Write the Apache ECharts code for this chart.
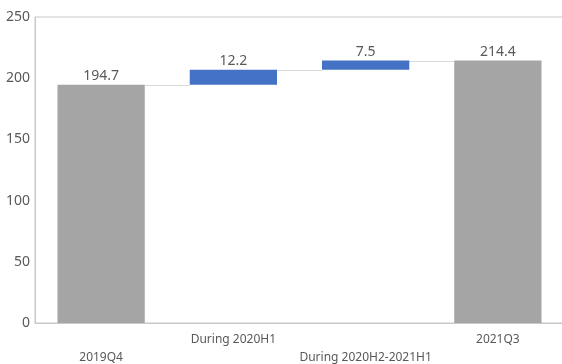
<!DOCTYPE html>
<html>
<head>
<meta charset="utf-8">
<script src="https://cdn.jsdelivr.net/npm/echarts@6/dist/echarts.min.js"></script>
<style>
  html, body { margin: 0; padding: 0; background: #ffffff; }
  #chart { width: 562px; height: 364px; }
</style>
</head>
<body>
<div id="chart"></div>
<script>
// Waterfall: opening level, two increments, closing level
const categories = ['2019Q4', 'During 2020H1', 'During 2020H2-2021H1', '2021Q3'];
const totals = [194.7, null, null, 214.4];
const increments = [null, 12.2, 7.5, null];
const yTicks = { min: 0, max: 250, interval: 50 };

// invisible base under each increment = running total before it
const base = [];
let running = 0;
categories.forEach(function (c, i) {
  if (totals[i] !== null) { base.push(0); running = totals[i]; }
  else { base.push(running); running = +(running + increments[i]).toFixed(1); }
});
// level each bar ends at, used for the connector lines
const levels = categories.map(function (c, i) {
  return totals[i] !== null ? totals[i] : +(base[i] + increments[i]).toFixed(1);
});

const textColor = '#595959';
const font = 'Noto Sans';
const BAR_RATIO = 0.66;

const chart = echarts.init(document.getElementById('chart'), null, { renderer: 'canvas' });
chart.setOption({
  animation: false,
  grid: {
    left: 35, right: -2, top: 17, bottom: 41,
    outerBoundsMode: 'none', containLabel: false,
    show: true, borderColor: '#c8c8c8', borderWidth: 1
  },
  xAxis: {
    type: 'category',
    data: categories,
    axisLine: { show: true, lineStyle: { color: '#c8c8c8' } },
    axisTick: { show: false },
    axisLabel: {
      interval: 0,
      color: textColor,
      fontFamily: font,
      fontSize: 12,
      lineHeight: 18,
      margin: 8,
      formatter: function (v, i) { return i % 2 === 0 ? '\n' + v : v; }
    }
  },
  yAxis: {
    type: 'value',
    min: yTicks.min, max: yTicks.max, interval: yTicks.interval,
    axisLine: { show: true, lineStyle: { color: '#c8c8c8' } },
    axisTick: { show: false },
    splitLine: { show: false },
    axisLabel: { color: textColor, fontFamily: font, fontSize: 14, margin: 5 }
  },
  series: [
    {
      type: 'bar', stack: 'w', barWidth: (BAR_RATIO * 100) + '%',
      data: base,
      itemStyle: { color: 'transparent' },
      silent: true
    },
    {
      type: 'bar', stack: 'w',
      data: totals,
      itemStyle: { color: '#a5a5a5' },
      label: { show: true, position: 'top', distance: 2, color: textColor, fontFamily: font, fontSize: 14 }
    },
    {
      type: 'bar', stack: 'w',
      data: increments,
      itemStyle: { color: '#4472c4' },
      label: { show: true, position: 'top', distance: 2, color: textColor, fontFamily: font, fontSize: 14 }
    },
    {
      // thin connectors from each bar's end level to the next bar
      type: 'custom',
      silent: true,
      z: 1,
      data: levels.slice(0, -1).map(function (v, i) { return [i, v]; }),
      renderItem: function (params, api) {
        const i = api.value(0);
        const v = api.value(1);
        const p0 = api.coord([i, v]);
        const p1 = api.coord([i + 1, v]);
        const half = api.size([1, 0])[0] * BAR_RATIO / 2;
        const y = Math.round(p0[1]) + 0.5;
        return {
          type: 'line',
          shape: { x1: p0[0] + half, y1: y, x2: p1[0] - half, y2: y },
          style: { stroke: '#d9d9d9', lineWidth: 1 }
        };
      }
    }
  ]
});
</script>
</body>
</html>
